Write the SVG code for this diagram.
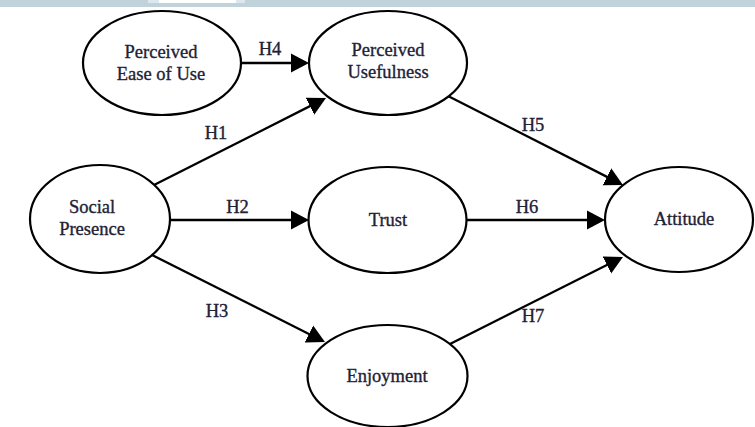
<svg xmlns="http://www.w3.org/2000/svg" width="755" height="427" viewBox="0 0 755 427">
<style>
.node ellipse{fill:#fff;stroke:#000;stroke-width:2.2}
text{font-family:"Liberation Serif","Times New Roman",serif;font-size:18.5px;fill:#1e2236;stroke:#1e2236;stroke-width:0.35;text-anchor:middle}
.edges line{stroke:#000;stroke-width:2.3;marker-end:url(#ah)}
</style>
<defs>
<marker id="ah" markerUnits="userSpaceOnUse" markerWidth="18" markerHeight="20" refX="15" refY="10" orient="auto">
<path d="M0,0.5 L18,10 L0,19.5 z" fill="#000"/>
</marker>
</defs>
<rect x="0" y="0" width="755" height="427" fill="#fff"/>
<rect x="0" y="0" width="755" height="7" fill="#c0d3db"/>
<rect x="148" y="0" width="97" height="3" fill="#dce8ee"/>
<rect x="159" y="0" width="77" height="3" fill="#fff"/>
<g class="edges">
<line x1="241" y1="63" x2="306" y2="63"/>
<line x1="152" y1="186" x2="323.3" y2="99.4"/>
<line x1="170" y1="220" x2="306" y2="220"/>
<line x1="152" y1="255" x2="322.3" y2="340.7"/>
<line x1="448" y1="96" x2="620.3" y2="183.6"/>
<line x1="467" y1="220" x2="602" y2="220"/>
<line x1="448" y1="345" x2="620.3" y2="258.3"/>
<text x="270" y="55">H4</text>
<text x="216" y="139">H1</text>
<text x="237.5" y="213">H2</text>
<text x="217" y="317">H3</text>
<text x="533" y="131">H5</text>
<text x="527" y="213">H6</text>
<text x="533" y="322">H7</text>
</g>
<g id="peou" class="node">
<ellipse cx="162" cy="63" rx="79" ry="52"/>
<text x="161" y="58">Perceived</text>
<text x="161" y="80">Ease of Use</text>
</g>
<g id="pu" class="node">
<ellipse cx="388" cy="63" rx="79" ry="52"/>
<text x="388" y="56">Perceived</text>
<text x="388" y="78">Usefulness</text>
</g>
<g id="sp" class="node">
<ellipse cx="100" cy="219" rx="70" ry="54"/>
<text x="92" y="213">Social</text>
<text x="92" y="235">Presence</text>
</g>
<g id="trust" class="node">
<ellipse cx="387.5" cy="220" rx="79" ry="53"/>
<text x="388" y="226">Trust</text>
</g>
<g id="enjoyment" class="node">
<ellipse cx="387.5" cy="376" rx="80" ry="51"/>
<text x="387" y="382">Enjoyment</text>
</g>
<g id="attitude" class="node">
<ellipse cx="679" cy="219.5" rx="74" ry="52.5"/>
<text x="684" y="225">Attitude</text>
</g>
</svg>
